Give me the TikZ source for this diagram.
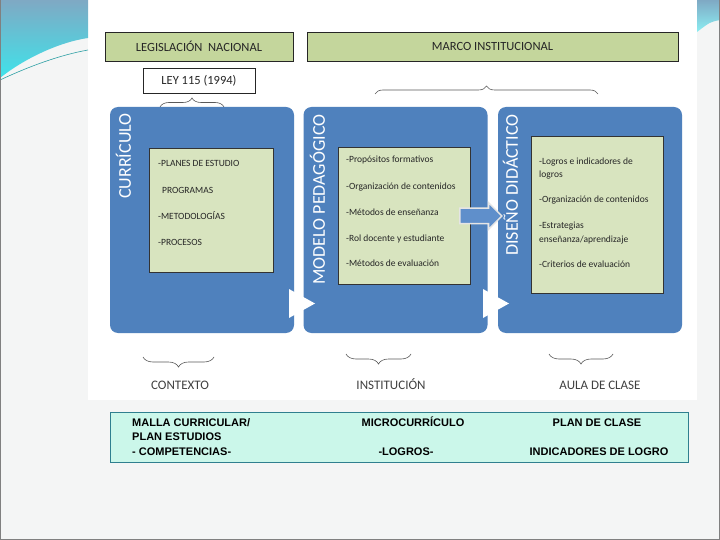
\documentclass[tikz,border=0pt]{standalone}
\usepackage{fontspec}
\setmainfont{Carlito}
\newfontfamily\arialfont{Liberation Sans}
\usetikzlibrary{positioning, shapes.arrows, decorations.pathreplacing}

\definecolor{slidebg}{HTML}{F4F5F5}
\definecolor{panelblue}{HTML}{4F81BD}
\definecolor{titlegreen}{HTML}{C4D69C}
\definecolor{listgreen}{HTML}{D8E4BF}
\definecolor{tablefill}{HTML}{CBF7EA}
\definecolor{tableline}{HTML}{2F7F8F}
\definecolor{arrowblue}{HTML}{5F8FCB}
\definecolor{decotop}{HTML}{7FA9C4}
\definecolor{decobot}{HTML}{3FE3EA}

\begin{document}
\begin{tikzpicture}[x=1pt, y=-1pt,
    title box/.style={draw=black!85, line width=0.8, fill=titlegreen, minimum height=29,
        font=\fontsize{12.5}{14}\selectfont, text=black!85},
    law box/.style={draw=black!85, line width=0.8, fill=white, minimum width=112, minimum height=25,
        font=\fontsize{12.5}{14}\selectfont, text=black!85},
    panel/.style={fill=panelblue, rounded corners=8, minimum width=184, minimum height=226},
    panel label/.style={rotate=90, text=white, inner sep=0, font=\fontsize{18}{20}\selectfont},
    list box/.style={draw=black!80, line width=0.8, fill=listgreen},
    item/.style={anchor=base west, inner sep=0, text=black!85, font=\fontsize{9.5}{11}\selectfont},
    level label/.style={anchor=base, inner sep=0, text=black!75, font=\fontsize{13}{15}\selectfont},
    cell/.style={anchor=base, inner sep=0, font=\arialfont\bfseries\fontsize{11}{13}\selectfont},
    brace line/.style={decorate, decoration={brace, amplitude=9}, draw=black!65, line width=0.6}]

    \useasboundingbox (0,0) rectangle (720,540);

    % slide
    \fill[slidebg] (0,0) rectangle (720,540);
    \fill[white] (88,0) rectangle (697,400);
    \shade[top color=decotop, bottom color=decobot]
        (0,0) -- (88,0) -- (88,38) .. controls (60,42) and (25,58) .. (0,78) -- cycle;
    \draw[decobot!70!black, line width=0.6] (0,80) .. controls (30,66) and (60,55) .. (88,50);
    \shade[top color=decotop, bottom color=decobot!60!white]
        (697,0) -- (720,0) -- (720,20) .. controls (710,22) .. (697,32) -- cycle;
    \draw[gray, line width=1] (0.5,0) -- (0.5,539.5) -- (719.5,539.5) -- (719.5,0);

    % frames
    \node[title box, minimum width=188] (legislacion) at (199,46.5) {LEGISLACIÓN\ \ NACIONAL};
    \node[title box, minimum width=371] (marco) at (492.5,46.5) {MARCO INSTITUCIONAL};
    \node[law box] (ley) at (199,80.5) {LEY 115 (1994)};

    \coordinate (ley left) at (160,107);
    \coordinate (ley right) at (224,107);
    \coordinate (marco left) at (375,94);
    \coordinate (marco right) at (598,94);
    \draw[brace line] (ley left) -- (ley right);
    \draw[brace line, decoration={amplitude=8}] (marco left) -- (marco right);

    % blocks
    \node[panel] (curriculo) at (202,220) {};
    \node[panel] (modelo) at (395.5,220) {};
    \node[panel] (diseno) at (590,220) {};

    \fill[white] (289,289) -- (315,303.5) -- (289,318) -- cycle;
    \fill[white] (483,289) -- (509,303.5) -- (483,318) -- cycle;

    \node[panel label] (curriculo label) at (123.5,156) {CURRÍCULO};
    \node[panel label] (modelo label) at (317.5,199.5) {MODELO PEDAGÓGICO};
    \node[panel label] (diseno label) at (510.5,185) {DISEÑO DIDÁCTICO};

    \node[list box, minimum width=124, minimum height=124] (planes box) at (211,210) {};
    \node[list box, minimum width=132, minimum height=137] (propositos box) at (404,215.5) {};
    \node[list box, minimum width=132, minimum height=157] (logros box) at (597,214.5) {};

    \node[item] (planes) at (158,167) {-PLANES DE ESTUDIO};
    \node[item] (programas) at (162,194) {PROGRAMAS};
    \node[item] (metodologias) at (158,220) {-METODOLOGÍAS};
    \node[item] (procesos) at (158,245) {-PROCESOS};

    \node[item] (propositos) at (346,163) {-Propósitos formativos};
    \node[item] (organizacion) at (346,190) {-Organización de contenidos};
    \node[item] (metodos) at (346,215) {-Métodos de enseñanza};
    \node[item] (rol) at (346,241) {-Rol docente y estudiante};
    \node[item] (evaluacion) at (346,266) {-Métodos de evaluación};

    \node[item] (logros) at (539,165) {-Logros e indicadores de};
    \node[item] (logros b) at (539,178) {logros};
    \node[item] (organizacion b) at (539,203) {-Organización de contenidos};
    \node[item] (estrategias) at (539,229) {-Estrategias};
    \node[item] (estrategias b) at (539,242) {enseñanza/aprendizaje};
    \node[item] (criterios) at (539,267) {-Criterios de evaluación};

    \node[single arrow, fill=arrowblue, draw=white!80!gray, line width=1.5,
        minimum height=42, minimum width=26, inner xsep=0, inner ysep=7,
        single arrow head extend=5.5] (paso) at (477,216) {};

    % levels
    \coordinate (contexto right) at (214,357);
    \coordinate (contexto left) at (143,357);
    \coordinate (institucion right) at (411,354);
    \coordinate (institucion left) at (346,354);
    \coordinate (aula right) at (613,354);
    \coordinate (aula left) at (549,354);
    \draw[brace line, decoration={amplitude=10}] (contexto right) -- (contexto left);
    \draw[brace line, decoration={amplitude=10}] (institucion right) -- (institucion left);
    \draw[brace line, decoration={amplitude=10}] (aula right) -- (aula left);

    \node[level label] (contexto) at (180,389.5) {CONTEXTO};
    \node[level label] (institucion) at (391,389.5) {INSTITUCIÓN};
    \node[level label] (aula) at (600,389.5) {AULA DE CLASE};

    % table
    \node[draw=tableline, line width=1, fill=tablefill, minimum width=578, minimum height=50] (tabla) at (399,437) {};
    \node[cell, anchor=base west] (malla) at (132,426) {MALLA CURRICULAR/};
    \node[cell, anchor=base west] (plan estudios) at (132,440.5) {PLAN ESTUDIOS};
    \node[cell, anchor=base west] (competencias) at (132,455) {- COMPETENCIAS-};
    \node[cell] (micro) at (413,426) {MICROCURRÍCULO};
    \node[cell] (logros cell) at (406,455) {-LOGROS-};
    \node[cell] (plan clase) at (597,426) {PLAN DE CLASE};
    \node[cell] (indicadores) at (599,455) {INDICADORES DE LOGRO};
\end{tikzpicture}
\end{document}
